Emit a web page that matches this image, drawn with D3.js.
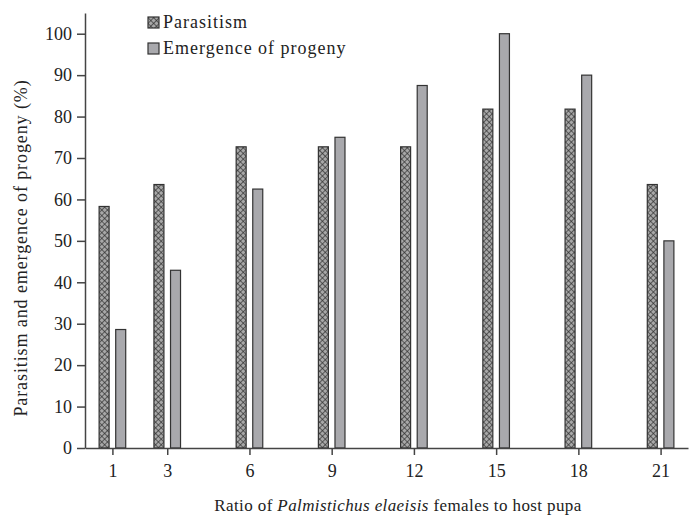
<!DOCTYPE html>
<html><head><meta charset="utf-8">
<script src="https://cdn.jsdelivr.net/npm/d3@7/dist/d3.min.js"></script>
<style>
body{margin:0;background:#fff}
svg text{font-family:'Liberation Serif','Tinos','DejaVu Serif','Times New Roman',serif !important;}
</style>
</head><body><svg id="c" width="694" height="523"></svg>
<script>
const ratios = [1, 3, 6, 9, 12, 15, 18, 21];
const parasitism = [58.3, 63.6, 72.7, 72.7, 72.7, 81.8, 81.8, 63.6];
const emergence = [28.6, 42.9, 62.5, 75.0, 87.5, 100.0, 90.0, 50.0];
const yTicks = [0, 10, 20, 30, 40, 50, 60, 70, 80, 90, 100];
const seriesNames = ["Parasitism", "Emergence of progeny"];

const svg = d3.select("#c");
const axisColor = "#444";
const x = d3.scaleLinear().domain([0, 22]).range([85, 688]);
const y = d3.scaleLinear().domain([0, 105]).range([448, 13]);
const barW = 10, gap = 3.3;

const defs = svg.append("defs");
const pat = defs.append("pattern").attr("id", "hatch").attr("patternUnits", "userSpaceOnUse")
  .attr("width", 4).attr("height", 4).attr("patternTransform", "rotate(45)");
pat.append("rect").attr("width", 4).attr("height", 4).attr("fill", "#a8a8a8");
pat.append("line").attr("x1", 0).attr("y1", 0).attr("x2", 0).attr("y2", 4).attr("stroke", "#2a2a2a").attr("stroke-width", 1.3);
pat.append("line").attr("x1", 0).attr("y1", 0).attr("x2", 4).attr("y2", 0).attr("stroke", "#2a2a2a").attr("stroke-width", 1.3);

// bars
svg.append("g").selectAll("rect").data(ratios).join("rect")
  .attr("x", (d) => x(d) - gap - barW).attr("width", barW)
  .attr("y", (d, i) => y(parasitism[i])).attr("height", (d, i) => y(0) - y(parasitism[i]))
  .attr("fill", "url(#hatch)").attr("stroke", "#333").attr("stroke-width", 1.2);
svg.append("g").selectAll("rect").data(ratios).join("rect")
  .attr("x", (d) => x(d) + gap).attr("width", barW)
  .attr("y", (d, i) => y(emergence[i])).attr("height", (d, i) => y(0) - y(emergence[i]))
  .attr("fill", "#a9a9ad").attr("stroke", "#333").attr("stroke-width", 1.2);

// axes
const gx = svg.append("g").attr("transform", `translate(0,${y(0)})`)
  .call(d3.axisBottom(x).tickValues(ratios).tickSize(7).tickSizeOuter(0).tickPadding(9));
const gy = svg.append("g").attr("transform", `translate(${x(0)},0)`)
  .call(d3.axisLeft(y).tickValues(yTicks).tickSize(8).tickSizeOuter(0).tickPadding(5));
[gx, gy].forEach(g => {
  g.attr("font-size", 18);
  g.select(".domain").attr("stroke", axisColor).attr("stroke-width", 1.5);
  g.selectAll(".tick line").attr("stroke", axisColor).attr("stroke-width", 1.5);
  g.selectAll(".tick text").attr("fill", "#222");
});

// axis titles
const xt = svg.append("text").attr("x", 398).attr("y", 511).attr("text-anchor", "middle")
  .attr("font-size", 17).attr("letter-spacing", 0.4).attr("fill", "#222");
xt.append("tspan").text("Ratio of ");
xt.append("tspan").attr("font-style", "italic").text("Palmistichus elaeisis");
xt.append("tspan").text(" females to host pupa");
svg.append("text").attr("transform", "translate(27,248) rotate(-90)").attr("text-anchor", "middle")
  .attr("font-size", 18).attr("letter-spacing", 0.9).attr("fill", "#222")
  .text("Parasitism and emergence of progeny (%)");

// legend
const leg = svg.append("g");
const fills = ["url(#hatch)", "#a9a9ad"];
seriesNames.forEach((n, i) => {
  const g = leg.append("g").attr("transform", `translate(148,${17 + i * 26})`);
  g.append("rect").attr("width", 11).attr("height", 11).attr("fill", fills[i]).attr("stroke", "#333").attr("stroke-width", 1.2);
  g.append("text").attr("x", 15).attr("y", 11).attr("font-size", 18).attr("letter-spacing", 1).attr("fill", "#222").text(n);
});
</script></body></html>
